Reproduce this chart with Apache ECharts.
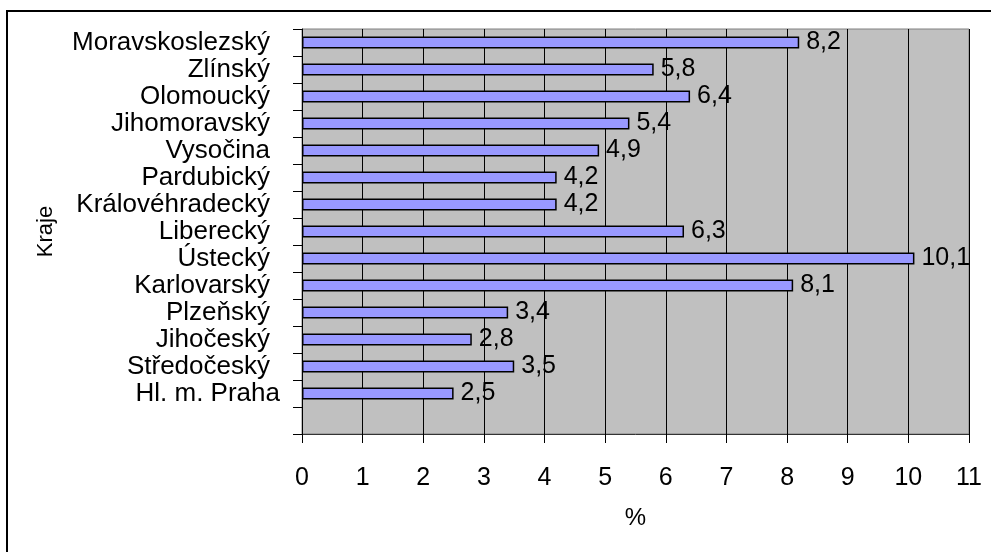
<!DOCTYPE html>
<html>
<head>
<meta charset="utf-8">
<script src="https://cdn.jsdelivr.net/npm/echarts@6/dist/echarts.min.js"></script>
<style>
  html, body { margin: 0; padding: 0; background: #fff; }
  #chart { width: 991px; height: 552px; }
</style>
</head>
<body>
<div id="chart"></div>
<script>
// Regions listed top to bottom; the trailing empty slot leaves a blank row under the last bar.
const regions = ['Moravskoslezský', 'Zlínský', 'Olomoucký', 'Jihomoravský', 'Vysočina',
  'Pardubický', 'Královéhradecký', 'Liberecký', 'Ústecký', 'Karlovarský',
  'Plzeňský', 'Jihočeský', 'Středočeský', 'Hl. m. Praha', ''];
const rates = [8.2, 5.8, 6.4, 5.4, 4.9, 4.2, 4.2, 6.3, 10.1, 8.1, 3.4, 2.8, 3.5, 2.5, null];
const xTicks = { min: 0, max: 11, interval: 1 };

const FONT = '"Liberation Sans", Arial, sans-serif';

const chart = echarts.init(document.getElementById('chart'));
chart.setOption({
  animation: false,
  backgroundColor: '#ffffff',
  textStyle: { fontFamily: FONT, color: '#000' },
  graphic: [{
    type: 'rect',
    shape: { x: 7, y: 11, width: 1200, height: 900 },
    style: { fill: 'none', stroke: '#000', lineWidth: 2 },
    silent: true
  }],
  grid: {
    left: 302, top: 29, right: 22, bottom: 118,
    show: true, backgroundColor: '#C0C0C0', borderColor: '#808080', borderWidth: 1
  },
  xAxis: {
    type: 'value',
    min: xTicks.min, max: xTicks.max, interval: xTicks.interval,
    name: '%',
    nameLocation: 'middle',
    nameGap: 72,
    nameTextStyle: { fontFamily: FONT, fontSize: 24, color: '#000' },
    axisLine: { show: true, lineStyle: { color: '#333', width: 1 } },
    axisTick: { show: true, length: 9, lineStyle: { color: '#000' } },
    axisLabel: { fontFamily: FONT, fontSize: 25, color: '#000', margin: 32 },
    splitLine: { show: true, lineStyle: { color: '#000', width: 1 } }
  },
  yAxis: {
    type: 'category',
    inverse: true,
    data: regions,
    name: 'Kraje',
    nameLocation: 'middle',
    nameRotate: 90,
    nameGap: 245,
    nameTextStyle: { fontFamily: FONT, fontSize: 22, color: '#000' },
    axisLine: { show: true, lineStyle: { color: '#000', width: 1 } },
    axisTick: { show: true, length: 9, lineStyle: { color: '#000' } },
    axisLabel: {
      interval: 0,
      margin: 22,
      fontFamily: FONT, fontSize: 26, color: '#000',
      formatter: v => v === 'Hl. m. Praha' ? '{p|' + v + '}' : '{n|' + v + '}',
      rich: {
        n: { fontFamily: FONT, fontSize: 26, color: '#000', padding: [0, 10, 0, 0] },
        p: { fontFamily: FONT, fontSize: 26, color: '#000' }
      }
    },
    splitLine: { show: false }
  },
  series: [{
    type: 'bar',
    data: rates,
    barWidth: 12,
    itemStyle: { color: '#9999FF', borderColor: '#000', borderWidth: 1.5 },
    label: {
      show: true,
      position: 'right',
      distance: 7,
      fontFamily: FONT, fontSize: 25, color: '#000',
      formatter: p => p.value == null ? '' : String(p.value).replace('.', ',')
    }
  }]
});
</script>
</body>
</html>
